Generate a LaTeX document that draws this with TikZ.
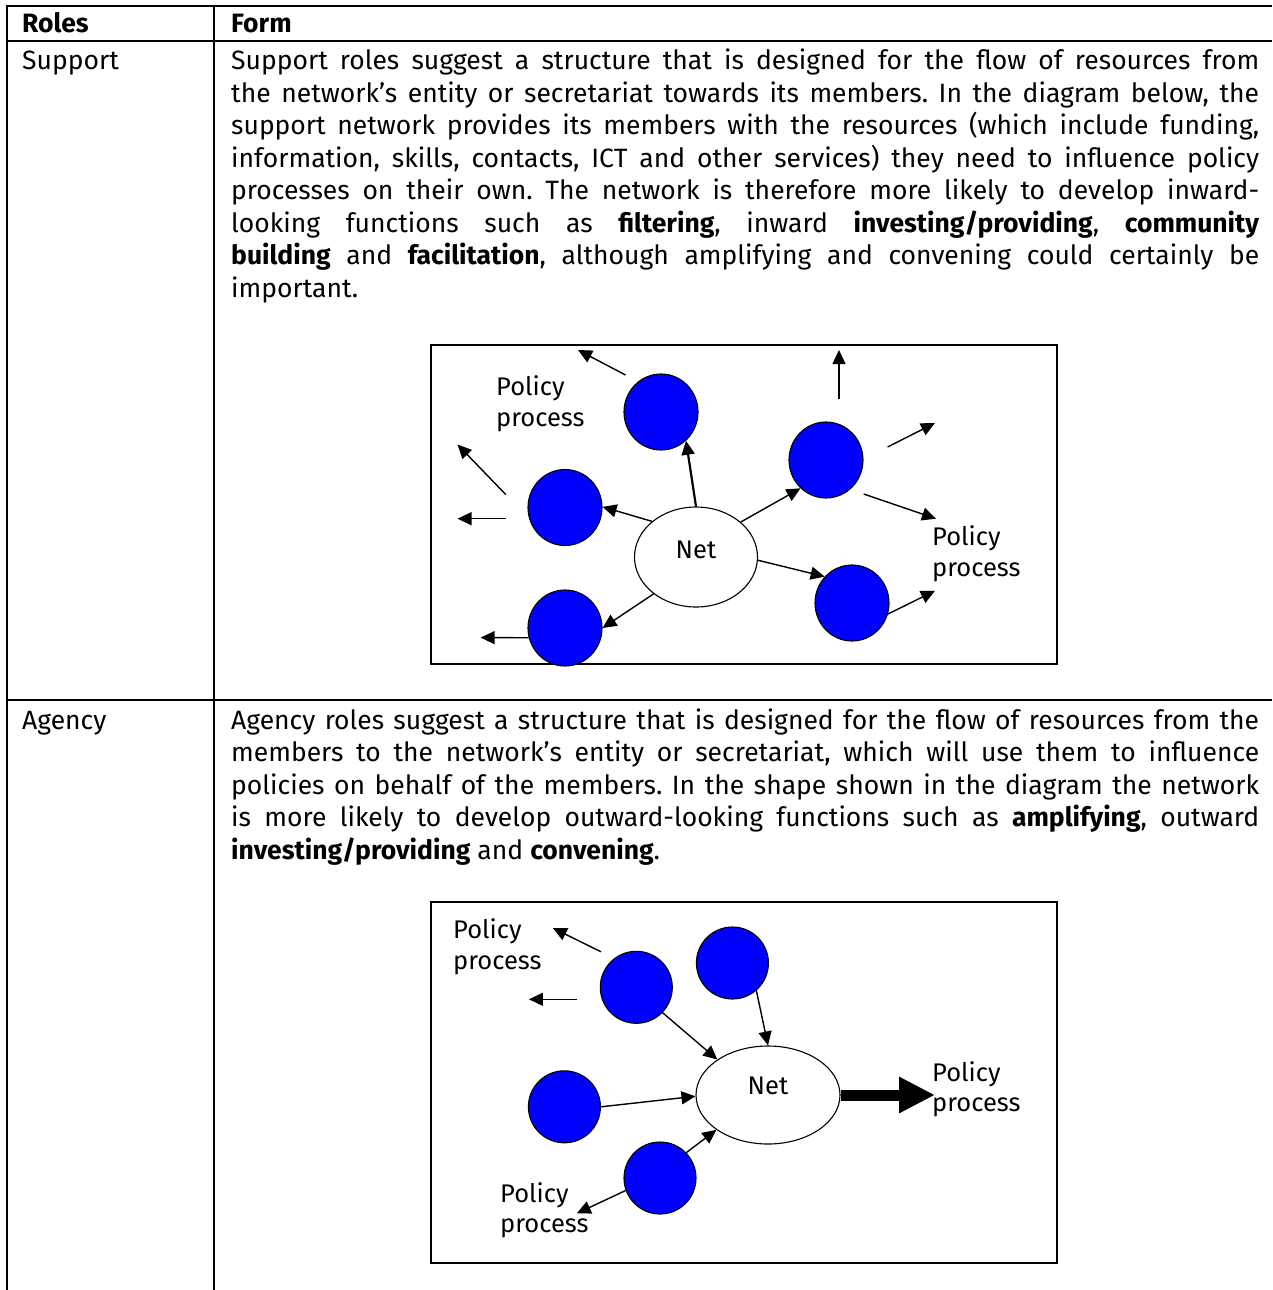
\documentclass[tikz,border=0pt]{standalone}
\usepackage{fontspec}
\usepackage{graphicx}
\setmainfont{Fira Sans}
\usetikzlibrary{shapes.geometric,arrows.meta}
\newlength\linew \setlength\linew{1028pt}
\newcommand\jl[1]{\sbox0{#1}\ifdim\wd0>\linew\resizebox{\linew}{!}{#1}\else\makebox[\linew][s]{#1}\fi}
\frenchspacing
\begin{document}
\begin{tikzpicture}[x=1pt,y=-1pt,
  font=\fontsize{26.5}{31}\selectfont,
  tbl/.style={line width=2pt},
  dbox/.style={line width=1.4pt},
  member/.style={ellipse, draw, line width=1.1pt, fill=blue, minimum width=74pt, minimum height=76pt, inner sep=0pt},
  netnode/.style={ellipse, draw, line width=1.1pt, fill=white, inner sep=0pt},
  arr/.style={line width=1.4pt, -{Triangle[length=14pt,width=13pt]}},
  txt/.style={anchor=base west, inner sep=0pt},
  dtxt/.style={anchor=base west, inner sep=0pt, font=\fontsize{25.5}{31}\selectfont},
  ctxt/.style={anchor=base, inner sep=0pt, font=\fontsize{25.5}{31}\selectfont}]
\useasboundingbox (0,0) rectangle (1272,1290);
\fill[white] (0,0) rectangle (1272,1290);
% table
\draw[tbl] (7,5.7) -- (1272,5.7);
\draw[tbl] (7,40.7) -- (1272,40.7);
\draw[tbl] (7,700) -- (1272,700);
\draw[tbl] (7,4.7) -- (7,1290);
\draw[tbl] (214,4.7) -- (214,1290);
% header
\node[txt] (hroles) at (22,33) {\bfseries Roles};
\node[txt] (hform) at (231,33) {\bfseries Form};
% support row
\node[txt] (rsup) at (22,69.7) {Support};
\node[txt] (s1) at (231,69.7) {\jl{Support roles suggest a structure that is designed for the flow of resources from}};
\node[txt] (s2) at (231,102.2) {\jl{the network’s entity or secretariat towards its members. In the diagram below, the}};
\node[txt] (s3) at (231,134.7) {\jl{support network provides its members with the resources (which include funding,}};
\node[txt] (s4) at (231,167.2) {\jl{information, skills, contacts, ICT and other services) they need to influence policy}};
\node[txt] (s5) at (231,199.7) {\jl{processes on their own. The network is therefore more likely to develop inward-}};
\node[txt] (s6) at (231,232.2) {\jl{looking functions such as \textbf{filtering}, inward \textbf{investing/providing}, \textbf{community}}};
\node[txt] (s7) at (231,264.7) {\jl{\textbf{building} and \textbf{facilitation}, although amplifying and convening could certainly be}};
\node[txt] (s8) at (231,297.2) {important.};
% agency row
\node[txt] (rag) at (22,729) {Agency};
\node[txt] (a1) at (231,729) {\jl{Agency roles suggest a structure that is designed for the flow of resources from the}};
\node[txt] (a2) at (231,761.5) {\jl{members to the network’s entity or secretariat, which will use them to influence}};
\node[txt] (a3) at (231,794) {\jl{policies on behalf of the members. In the shape shown in the diagram the network}};
\node[txt] (a4) at (231,826.5) {\jl{is more likely to develop outward-looking functions such as \textbf{amplifying}, outward}};
\node[txt] (a5) at (231,859) {\textbf{investing/providing} and \textbf{convening}.};

% ---------- diagram 1 (support)
\draw[dbox] (431,345) rectangle (1057,664);
\node[netnode, minimum width=123pt, minimum height=100pt] (n1) at (696,557) {};
\node[ctxt] (n1t) at (696,558) {Net};
\node[member] (A) at (661,412) {};
\node[member] (B) at (826,460) {};
\node[member] (C) at (565,507.5) {};
\node[member] (D) at (565,628) {};
\node[member] (E) at (852,603) {};
\draw[arr, line width=2.2pt] (n1.90) -- (A.-49);
\draw[arr] (n1.141) -- (C.1);
\draw[arr] (n1.38) -- (B.-132);
\draw[arr] (n1.-3) -- (E.136);
\draw[arr] (n1.-139.5) -- (D.0);
% free arrows
\coordinate (f1s) at (625.5,375); \coordinate (f1e) at (578,350);
\coordinate (f2s) at (839,399);   \coordinate (f2e) at (839,350);
\coordinate (f3s) at (887.6,447); \coordinate (f3e) at (935,423);
\coordinate (f4s) at (863.7,494); \coordinate (f4e) at (936,518.7);
\coordinate (f5s) at (505.8,494.6); \coordinate (f5e) at (457.5,444.5);
\coordinate (f6s) at (505.8,518.7); \coordinate (f6e) at (457.5,518.7);
\coordinate (f7e) at (480.6,637.6);
\coordinate (f8e) at (935,590.8);
\draw[arr] (f1s) -- (f1e);
\draw[arr] (f2s) -- (f2e);
\draw[arr] (f3s) -- (f3e);
\draw[arr] (f4s) -- (f4e);
\draw[arr] (f5s) -- (f5e);
\draw[arr] (f6s) -- (f6e);
\draw[arr] (D.-165) -- (f7e);
\draw[arr] (E.-17) -- (f8e);
\node[dtxt] (l1a) at (496,395) {Policy};
\node[dtxt] (l1b) at (496,426) {process};
\node[dtxt] (l2a) at (932,545) {Policy};
\node[dtxt] (l2b) at (932,576) {process};

% ---------- diagram 2 (agency)
\draw[dbox] (431,902) rectangle (1057,1263);
\node[netnode, minimum width=144pt, minimum height=98pt] (n2) at (768,1095) {};
\node[ctxt] (n2t) at (768,1094) {Net};
\node[member, minimum width=72pt, minimum height=72pt] (P) at (732.4,963) {};
\node[member, minimum width=72pt, minimum height=72pt] (Q) at (636.3,987.3) {};
\node[member, minimum width=72pt, minimum height=72pt] (R) at (564.4,1106.8) {};
\node[member, minimum width=72pt, minimum height=72pt] (S) at (660,1178) {};
\draw[arr] (Q.-44) -- (n2.145);
\draw[arr] (P.-49) -- (n2.90);
\draw[arr] (R.0) -- (n2.-179);
\draw[arr] (S.44) -- (n2.-146.5);
\coordinate (g1e) at (576.8,1213.4);
\coordinate (g2s) at (601,951.8); \coordinate (g2e) at (552.8,928);
\coordinate (g3s) at (576.8,999.3); \coordinate (g3e) at (528.9,999.3);
\coordinate (g4e) at (935,1095);
\draw[arr] (S.-160) -- (g1e);
\draw[arr] (g2s) -- (g2e);
\draw[arr] (g3s) -- (g3e);
\draw[line width=11pt, -{Triangle[length=36pt,width=34pt]}] (n2.east) -- (g4e);
\node[dtxt] (m1a) at (453,938.5) {Policy};
\node[dtxt] (m1b) at (453,969.4) {process};
\node[dtxt] (m2a) at (932,1081) {Policy};
\node[dtxt] (m2b) at (932,1111) {process};
\node[dtxt] (m3a) at (500,1202) {Policy};
\node[dtxt] (m3b) at (500,1232) {process};
\end{tikzpicture}
\end{document}
